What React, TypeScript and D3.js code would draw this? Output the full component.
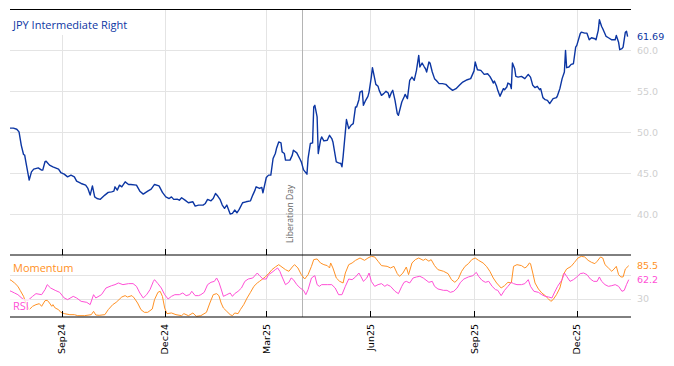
import React from "react";
import * as d3 from "d3";

const W = 674;
const H = 366;
const START = "2024-07-17";
const END = "2026-01-18";
const LIBERATION_DAY = "2025-04-02";

// main series: date, value
const price: [string, number][] = [
  ["2024-07-17", 50.5], ["2024-07-20", 50.5], ["2024-07-23", 50.37], ["2024-07-25", 50.04],
  ["2024-07-27", 48.4], ["2024-07-29", 47.28], ["2024-07-30", 47.2], ["2024-07-31", 46.4],
  ["2024-08-03", 44.15], ["2024-08-05", 45.16], ["2024-08-07", 45.5], ["2024-08-11", 45.65],
  ["2024-08-14", 45.37], ["2024-08-15", 45.37], ["2024-08-17", 46.4], ["2024-08-18", 46.46],
  ["2024-08-21", 45.98], ["2024-08-24", 45.77], ["2024-08-29", 45.49], ["2024-08-31", 45.08],
  ["2024-09-03", 44.88], ["2024-09-06", 44.55], ["2024-09-09", 44.76], ["2024-09-12", 44.55],
  ["2024-09-14", 44.02], ["2024-09-18", 43.74], ["2024-09-22", 43.54], ["2024-09-24", 43.13],
  ["2024-09-26", 42.32], ["2024-09-28", 43.45], ["2024-09-30", 42.1], ["2024-10-02", 41.9],
  ["2024-10-05", 41.8], ["2024-10-09", 42.32], ["2024-10-12", 42.65], ["2024-10-15", 42.72],
  ["2024-10-17", 42.8], ["2024-10-18", 43.33], ["2024-10-20", 42.93], ["2024-10-22", 43.54],
  ["2024-10-24", 43.33], ["2024-10-27", 43.94], ["2024-10-30", 43.62], ["2024-11-01", 43.62],
  ["2024-11-06", 43.54], ["2024-11-09", 42.8], ["2024-11-12", 42.44], ["2024-11-16", 42.8],
  ["2024-11-19", 43.05], ["2024-11-22", 43.62], ["2024-11-26", 43.45], ["2024-11-29", 42.65],
  ["2024-12-02", 42.1], ["2024-12-05", 41.9], ["2024-12-07", 42.1], ["2024-12-09", 41.8],
  ["2024-12-12", 41.83], ["2024-12-14", 41.7], ["2024-12-16", 41.99], ["2024-12-19", 41.7],
  ["2024-12-22", 41.38], ["2024-12-26", 41.5], ["2024-12-28", 40.98], ["2024-12-31", 41.1],
  ["2025-01-04", 41.1], ["2025-01-06", 41.3], ["2025-01-08", 41.8], ["2025-01-11", 41.62],
  ["2025-01-13", 41.9], ["2025-01-15", 42.52], ["2025-01-17", 42.2], ["2025-01-19", 41.8],
  ["2025-01-21", 41.1], ["2025-01-23", 40.7], ["2025-01-25", 41.1], ["2025-01-28", 40.0],
  ["2025-01-30", 40.08], ["2025-02-01", 40.49], ["2025-02-03", 40.16], ["2025-02-05", 40.57],
  ["2025-02-08", 41.38], ["2025-02-11", 41.5], ["2025-02-15", 41.62], ["2025-02-17", 42.32],
  ["2025-02-19", 42.93], ["2025-02-20", 43.33], ["2025-02-23", 43.13], ["2025-02-25", 43.26],
  ["2025-02-26", 42.6], ["2025-03-01", 44.47], ["2025-03-03", 44.76], ["2025-03-05", 44.76],
  ["2025-03-07", 46.79], ["2025-03-09", 47.4], ["2025-03-10", 48.01], ["2025-03-12", 48.82],
  ["2025-03-14", 48.7], ["2025-03-15", 47.6], ["2025-03-17", 47.4], ["2025-03-18", 46.59],
  ["2025-03-22", 46.59], ["2025-03-24", 47.2], ["2025-03-25", 47.8], ["2025-03-28", 47.48],
  ["2025-03-31", 46.67], ["2025-04-01", 46.38], ["2025-04-03", 45.4], ["2025-04-06", 44.88],
  ["2025-04-07", 46.8], ["2025-04-09", 48.62], ["2025-04-11", 48.7], ["2025-04-12", 53.09],
  ["2025-04-13", 53.29], ["2025-04-15", 51.87], ["2025-04-16", 47.4], ["2025-04-18", 49.02],
  ["2025-04-19", 49.43], ["2025-04-21", 48.94], ["2025-04-24", 49.02], ["2025-04-26", 49.63],
  ["2025-04-28", 49.23], ["2025-04-29", 48.82], ["2025-05-02", 46.38], ["2025-05-04", 46.26],
  ["2025-05-06", 46.18], ["2025-05-07", 45.77], ["2025-05-08", 46.99], ["2025-05-11", 51.55],
  ["2025-05-13", 50.45], ["2025-05-15", 50.85], ["2025-05-17", 51.06], ["2025-05-19", 53.09],
  ["2025-05-20", 53.09], ["2025-05-22", 53.98], ["2025-05-23", 54.91], ["2025-05-25", 55.04],
  ["2025-05-26", 53.29], ["2025-05-28", 53.9], ["2025-05-30", 54.39], ["2025-05-31", 54.91],
  ["2025-06-02", 56.74], ["2025-06-03", 57.89], ["2025-06-05", 56.55], ["2025-06-06", 55.85],
  ["2025-06-08", 55.61], ["2025-06-09", 55.12], ["2025-06-11", 54.51], ["2025-06-13", 54.72],
  ["2025-06-15", 55.0], ["2025-06-17", 54.79], ["2025-06-18", 54.23], ["2025-06-20", 54.91],
  ["2025-06-21", 55.12], ["2025-06-23", 53.9], ["2025-06-25", 52.28], ["2025-06-26", 52.07],
  ["2025-06-29", 53.7], ["2025-07-01", 54.3], ["2025-07-02", 54.63], ["2025-07-04", 54.11],
  ["2025-07-06", 56.34], ["2025-07-08", 56.74], ["2025-07-10", 56.34], ["2025-07-12", 57.56],
  ["2025-07-14", 59.39], ["2025-07-15", 57.97], ["2025-07-17", 58.46], ["2025-07-19", 57.97],
  ["2025-07-20", 57.76], ["2025-07-21", 57.36], ["2025-07-23", 58.58], ["2025-07-24", 58.46],
  ["2025-07-26", 57.36], ["2025-07-28", 56.55], ["2025-07-30", 56.26], ["2025-08-01", 55.94],
  ["2025-08-04", 55.94], ["2025-08-07", 55.85], ["2025-08-10", 55.45], ["2025-08-11", 55.33],
  ["2025-08-13", 55.12], ["2025-08-16", 55.33], ["2025-08-19", 55.73], ["2025-08-22", 56.14],
  ["2025-08-26", 56.42], ["2025-08-29", 56.55], ["2025-09-01", 57.5], ["2025-09-02", 58.58],
  ["2025-09-04", 57.64], ["2025-09-07", 57.56], ["2025-09-10", 57.07], ["2025-09-13", 57.15],
  ["2025-09-15", 56.83], ["2025-09-17", 56.34], ["2025-09-18", 56.01], ["2025-09-19", 56.26],
  ["2025-09-21", 55.61], ["2025-09-22", 55.12], ["2025-09-24", 54.39], ["2025-09-25", 54.72],
  ["2025-09-27", 55.33], ["2025-09-28", 55.2], ["2025-09-30", 55.53], ["2025-10-01", 56.01],
  ["2025-10-03", 55.85], ["2025-10-04", 55.33], ["2025-10-05", 58.46], ["2025-10-07", 57.76],
  ["2025-10-08", 56.83], ["2025-10-10", 56.74], ["2025-10-13", 56.83], ["2025-10-16", 56.55],
  ["2025-10-19", 57.07], ["2025-10-21", 56.74], ["2025-10-23", 55.73], ["2025-10-25", 55.45],
  ["2025-10-27", 55.61], ["2025-10-29", 55.2], ["2025-10-30", 55.33], ["2025-11-01", 54.23],
  ["2025-11-03", 53.98], ["2025-11-05", 53.9], ["2025-11-07", 53.5], ["2025-11-10", 54.11],
  ["2025-11-13", 54.23], ["2025-11-14", 54.51], ["2025-11-16", 55.33], ["2025-11-18", 56.55],
  ["2025-11-20", 57.36], ["2025-11-21", 60.0], ["2025-11-22", 57.89], ["2025-11-24", 57.97],
  ["2025-11-26", 58.29], ["2025-11-28", 58.37], ["2025-11-30", 60.4], ["2025-12-01", 60.61],
  ["2025-12-04", 62.04], ["2025-12-05", 62.23], ["2025-12-08", 62.11], ["2025-12-10", 62.11],
  ["2025-12-12", 61.3], ["2025-12-14", 61.55], ["2025-12-17", 61.43], ["2025-12-18", 61.3],
  ["2025-12-20", 62.44], ["2025-12-21", 63.74], ["2025-12-23", 62.93], ["2025-12-24", 62.65],
  ["2025-12-27", 61.71], ["2025-12-29", 61.55], ["2026-01-01", 61.3], ["2026-01-04", 61.3],
  ["2026-01-05", 61.83], ["2026-01-07", 61.01], ["2026-01-08", 60.09], ["2026-01-10", 60.21],
  ["2026-01-11", 60.4], ["2026-01-13", 62.23], ["2026-01-14", 62.35], ["2026-01-15", 61.69],
];

// lower panel: [days since START, value]
const momentum: [number, number][] = [
  [0, 62], [1, 61.1], [4, 56.7], [7, 51.1], [9, 44.4], [12, 34.4], [14, 23.3], [17, 12.2],
  [20, 17.8], [23, 20.6], [26, 22.2], [28, 17.8], [31, 27.2], [33, 27.8], [35, 23.3], [37, 17.8],
  [38, 20.6], [40, 15], [43, 12.2], [45, 7.8], [48, 5.6], [53, 3.9], [57, 3.9], [60, 2.2],
  [66, 2.2], [72, 3.9], [74, 9.4], [76, 3.3], [79, 2.8], [84, 3.9], [87, 12.2], [91, 20.6],
  [94, 24.4], [99, 33.3], [102, 35.6], [104, 33.3], [108, 35.6], [110, 31.7], [113, 23.3],
  [116, 12.2], [119, 7.8], [122, 7.8], [126, 13.3], [128, 28.9], [131, 41.1], [133, 42.8],
  [135, 34.4], [137, 15], [139, 5.6], [143, 6.7], [147, 3.9], [152, 2.2], [154, 5.6], [158, 2.2],
  [162, 6.7], [165, 1.1], [169, 2.2], [174, 7.8], [177, 23.3], [180, 37.2], [183, 38.9],
  [185, 35.6], [187, 23.3], [189, 15], [192, 9.4], [195, 3.9], [197, 2.2], [199, 6.7], [202, 5.6],
  [204, 12.2], [207, 20.6], [210, 31.7], [213, 41.1], [216, 51.1], [219, 56.7], [221, 59.4],
  [226, 66.7], [229, 72.2], [232, 78.9], [235, 83.3], [238, 87.2], [240, 84.4], [244, 78.9],
  [247, 76.1], [250, 83.3], [252, 87.2], [255, 81.7], [258, 70.6], [261, 63.3], [264, 70.6],
  [267, 84.4], [269, 95.6], [272, 96.7], [275, 90], [278, 87.2], [281, 85.6], [283, 81.7],
  [284, 90], [286, 81.7], [289, 65], [292, 59.4], [295, 56.7], [297, 73.3], [300, 87.2],
  [303, 90], [306, 94.4], [310, 98.3], [314, 94.4], [317, 98.3], [320, 101.1], [323, 100],
  [326, 92.8], [329, 85.6], [334, 84.4], [337, 81.7], [340, 84.4], [343, 72.2], [345, 67.8],
  [348, 73.3], [351, 83.3], [353, 70.6], [356, 90], [359, 95.6], [362, 98.3], [366, 94.4],
  [368, 96.7], [371, 93], [373, 95.6], [376, 85.6], [379, 78.9], [384, 76.1], [388, 72.2],
  [391, 62.2], [394, 57.8], [397, 63.3], [400, 76.1], [403, 84.4], [406, 88.9], [409, 95.6],
  [412, 98.3], [415, 94.4], [419, 90], [422, 84.4], [425, 76.1], [428, 65], [431, 56.7],
  [435, 48.3], [438, 52.2], [441, 57.8], [444, 56.7], [446, 84.4], [449, 87.2], [453, 85.6],
  [456, 81.7], [458, 84.4], [460, 90], [461, 88.9], [463, 73.3], [465, 56.7], [468, 46.7],
  [471, 40], [474, 35.6], [477, 30], [479, 26.1], [481, 28.9], [484, 37.2], [487, 48.3],
  [490, 70.6], [493, 80], [497, 84.4], [500, 91.1], [503, 98.3], [506, 101.1], [509, 100],
  [512, 94.4], [515, 91.1], [518, 88.9], [520, 92.8], [523, 100], [525, 98.3], [527, 87.2],
  [530, 81.7], [533, 76.1], [535, 80], [537, 84.4], [539, 70.6], [541, 66.7], [543, 66.7],
  [545, 80], [548, 85.5],
];

const rsi: [number, number][] = [
  [0, 43.5], [1, 42.8], [4, 40], [7, 37.2], [12, 28.9], [16, 27.8], [20, 34.4], [23, 38.9],
  [28, 37.2], [31, 45.6], [33, 53.9], [36, 48.3], [40, 44.4], [44, 41.1], [48, 31.7], [51, 28.9],
  [56, 34.4], [59, 31.7], [63, 26.1], [68, 24.4], [71, 20.6], [74, 37.2], [76, 31.7], [81, 37.2],
  [85, 48.3], [90, 52.2], [93, 53.9], [96, 56.7], [100, 53.9], [105, 55.6], [109, 55.6],
  [112, 51.1], [115, 40], [118, 31.7], [121, 37.2], [124, 45.6], [127, 59.4], [128, 62.2],
  [131, 55.6], [134, 48.3], [137, 37.2], [140, 30], [143, 34.4], [146, 37.2], [150, 37.2],
  [153, 40], [156, 35.6], [159, 37.2], [161, 42.8], [164, 35.6], [167, 35.6], [169, 37.2],
  [172, 41.1], [175, 53.9], [178, 57.8], [181, 59.4], [183, 65], [185, 58], [187, 46.7],
  [189, 34.4], [192, 37.2], [195, 40], [197, 34.4], [199, 38.9], [202, 42.8], [205, 48.3],
  [208, 59.4], [211, 63.3], [215, 65], [219, 73.3], [221, 68.9], [224, 63.3], [227, 63.3],
  [229, 70.6], [232, 74.4], [235, 78.9], [237, 81.7], [239, 76.1], [241, 66.7], [244, 53.9],
  [247, 57.8], [249, 65], [251, 62.2], [254, 53.9], [257, 48.3], [260, 44.4], [262, 37.2],
  [264, 45.6], [267, 65], [270, 68.9], [272, 53.9], [274, 51.1], [276, 53.9], [281, 53.9],
  [285, 53.9], [288, 48.3], [291, 37.2], [294, 37.2], [297, 51.1], [300, 63.3], [303, 62.2],
  [306, 66.7], [309, 73.3], [311, 66.7], [313, 59.4], [316, 65], [318, 73.3], [320, 59.4],
  [323, 51.1], [326, 53.9], [329, 55.6], [332, 51.1], [334, 53.9], [337, 51.1], [341, 42.8],
  [344, 38.9], [347, 51.1], [349, 57.8], [351, 59.4], [354, 56.7], [357, 65], [360, 66.7],
  [363, 67.8], [366, 65], [371, 57.8], [374, 59.4], [376, 51.1], [379, 46.7], [384, 44.4],
  [387, 44.4], [390, 41.1], [393, 42.8], [396, 48.3], [399, 57.8], [402, 63.3], [406, 66.7],
  [410, 68.9], [413, 74.4], [415, 67.8], [418, 61.1], [421, 57.8], [424, 59.4], [427, 51.1],
  [430, 45.6], [432, 44.4], [435, 35.6], [438, 44.4], [441, 51.1], [444, 57.8], [446, 55.6],
  [449, 53.9], [453, 53.9], [456, 55.6], [459, 62.2], [461, 51.1], [464, 42.8], [468, 41.1],
  [471, 37.2], [474, 34.4], [477, 33.3], [480, 31.7], [482, 40], [485, 51.1], [489, 62.2],
  [491, 73.3], [493, 67.8], [496, 59.4], [499, 62.2], [502, 66.7], [505, 72.2], [508, 73.3],
  [511, 70.6], [514, 63.3], [517, 59.4], [520, 59.4], [522, 66.7], [524, 59.4], [527, 53.9],
  [530, 51.1], [533, 52.2], [536, 53.9], [539, 51.1], [542, 42.8], [544, 44.4], [546, 53.9],
  [548, 62.2],
];

const xTicks = ["2024-09-01", "2024-12-01", "2025-03-01", "2025-06-01", "2025-09-01", "2025-12-01"];
const mainTicks = [40, 45, 50, 55, 60];
const lowerGrid = [30, 70];
const lowerTickLabels = [30];

const BLUE = "#0c36a3";
const ORANGE = "#ff9124";
const PINK = "#ff4fd6";
const GRID = "#e4e4e4";
const FONT = "'Open Sans', sans-serif";
const NUM_FONT = "'DejaVu Sans', sans-serif";

export default function App() {
  const parse = d3.timeParse("%Y-%m-%d");
  const start = parse(START) as Date;
  const left = 10;
  const right = 631;
  const mainTop = 9.5;
  const mainBottom = 255;
  const lowBottom = 317;

  const x = d3.scaleTime().domain([start, parse(END) as Date]).range([left, right]);
  const y = d3.scaleLinear().domain([35, 65]).range([mainBottom, mainTop]);
  const y2 = d3.scaleLinear().domain([0, 103.3]).range([lowBottom, mainBottom]);

  const priceLine = d3
    .line<[string, number]>()
    .x((d) => x(parse(d[0]) as Date))
    .y((d) => y(d[1]));
  const lowLine = d3
    .line<[number, number]>()
    .x((d) => x(d3.timeDay.offset(start, d[0])))
    .y((d) => y2(d[1]));

  const fmt = d3.timeFormat("%b%y");
  const lib = x(parse(LIBERATION_DAY) as Date);
  const lastPrice = price[price.length - 1][1];
  const lastMom = momentum[momentum.length - 1][1];
  const lastRsi = rsi[rsi.length - 1][1];

  return (
    <svg
      width={W}
      height={H}
      style={{ position: "absolute", left: 0, top: 0, background: "#fff" }}
    >
      {/* grid */}
      <g stroke={GRID} strokeWidth={1}>
        {mainTicks.map((t) => (
          <line key={t} x1={left} x2={right} y1={Math.round(y(t)) + 0.5} y2={Math.round(y(t)) + 0.5} />
        ))}
        {lowerGrid.map((t) => (
          <line key={t} x1={left} x2={right} y1={Math.round(y2(t)) + 0.5} y2={Math.round(y2(t)) + 0.5} />
        ))}
        {xTicks.map((t) => {
          const xx = Math.round(x(parse(t) as Date)) + 0.5;
          return <line key={t} x1={xx} x2={xx} y1={mainTop} y2={lowBottom} />;
        })}
      </g>

      {/* liberation day marker */}
      <line x1={Math.round(lib) + 0.5} x2={Math.round(lib) + 0.5} y1={mainTop} y2={lowBottom} stroke="#b4b4b4" />
      <text
        transform={`translate(${lib - 9.5},243) rotate(-90)`}
        fontFamily={FONT}
        fontSize={8.6}
        fill="#666"
      >
        Liberation Day
      </text>

      {/* series */}
      <path d={priceLine(price) ?? ""} fill="none" stroke={BLUE} strokeWidth={1.4} strokeLinejoin="round" />
      <path d={lowLine(momentum) ?? ""} fill="none" stroke={ORANGE} strokeWidth={1} strokeLinejoin="round" />
      <path d={lowLine(rsi) ?? ""} fill="none" stroke={PINK} strokeWidth={1} strokeLinejoin="round" />

      {/* label boxes */}
      <rect x={left} y={mainTop + 0.5} width={124} height={25} fill="#fff" />
      <text x={13} y={29} fontFamily={FONT} fontSize={11} fill={BLUE}>
        JPY Intermediate Right
      </text>
      <rect x={left} y={258} width={66} height={17} fill="#fff" opacity={0.8} />
      <text x={13} y={272} fontFamily={FONT} fontSize={11} fill={ORANGE}>
        Momentum
      </text>
      <rect x={left} y={299} width={20} height={14} fill="#fff" opacity={0.75} />
      <text x={13} y={310} fontFamily={FONT} fontSize={11} fill={PINK}>
        RSI
      </text>

      {/* panel borders */}
      <g stroke="#000" strokeWidth={1}>
        <line x1={left} x2={right} y1={mainTop} y2={mainTop} />
        <line x1={left} x2={right} y1={mainBottom} y2={mainBottom} />
        <line x1={left} x2={right} y1={lowBottom} y2={lowBottom} />
        {xTicks.map((t) => {
          const xx = Math.round(x(parse(t) as Date)) + 0.5;
          return (
            <g key={t}>
              <line x1={xx} x2={xx} y1={mainBottom - 6} y2={mainBottom} />
              <line x1={xx} x2={xx} y1={lowBottom - 6} y2={lowBottom} />
            </g>
          );
        })}
      </g>

      {/* x labels */}
      {xTicks.map((t) => {
        const xx = x(parse(t) as Date);
        return (
          <text
            key={t}
            transform={`translate(${xx + 3.5},324) rotate(-90)`}
            textAnchor="end"
            fontFamily={NUM_FONT}
            fontSize={9.5}
            fill="#000"
          >
            {fmt(parse(t) as Date)}
          </text>
        );
      })}

      {/* right labels */}
      <g fontFamily={NUM_FONT} fontSize={9.5}>
        {mainTicks.map((t) => (
          <text key={t} x={637} y={y(t) + 3.5} fill="#cfcfcf">
            {d3.format(".1f")(t)}
          </text>
        ))}
        {lowerTickLabels.map((t) => (
          <text key={t} x={637} y={y2(t) + 3.5} fill="#cfcfcf">
            {t}
          </text>
        ))}
        <text x={637} y={y(lastPrice) + 3.5} fill={BLUE}>
          {lastPrice.toFixed(2)}
        </text>
        <text x={637} y={y2(lastMom) + 3.5} fill={ORANGE}>
          {lastMom.toFixed(1)}
        </text>
        <text x={637} y={y2(lastRsi) + 3.5} fill={PINK}>
          {lastRsi.toFixed(1)}
        </text>
      </g>
    </svg>
  );
}
